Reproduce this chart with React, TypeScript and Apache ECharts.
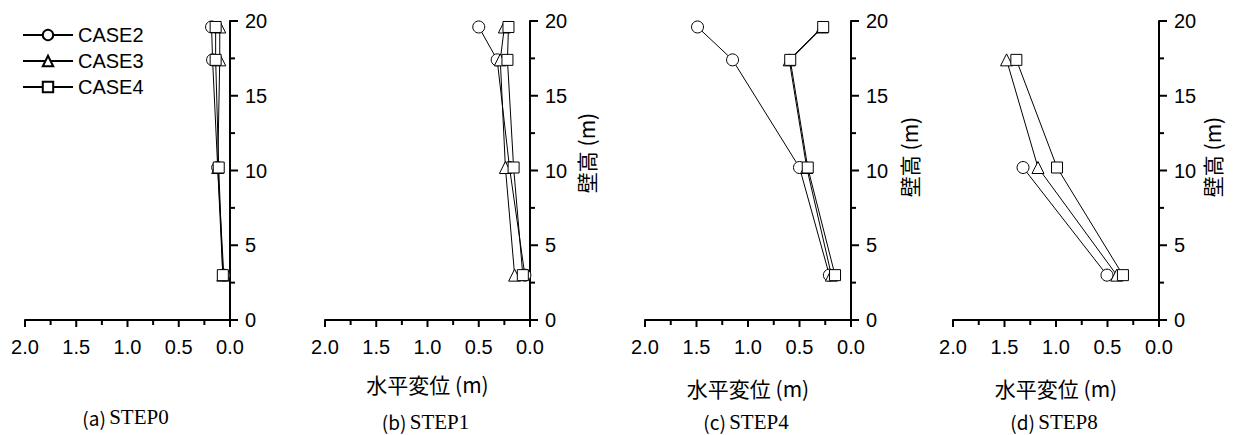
import React, { useEffect, useRef } from "react";
import * as echarts from "echarts";

// wall heights (m) of the measurement points
const heights = [19.6, 17.4, 10.2, 3.0];
const caseNames = ["CASE2", "CASE3", "CASE4"];
const caseSymbols = ["circle", "triangle", "rect"];

// horizontal displacement (m), per step, per case (null = no point)
const step0Case2 = [0.18, 0.17, 0.12, 0.06];
const step0Case3 = [0.1, 0.1, 0.12, 0.07];
const step0Case4 = [0.14, 0.14, 0.11, 0.07];
const step1Case2 = [0.5, 0.32, 0.2, 0.05];
const step1Case3 = [0.25, 0.29, 0.24, 0.15];
const step1Case4 = [0.21, 0.22, 0.16, 0.07];
const step4Case2 = [1.49, 1.15, 0.5, 0.21];
const step4Case3 = [0.28, 0.6, 0.43, 0.19];
const step4Case4 = [0.27, 0.59, 0.42, 0.155];
const step8Case2 = [null, null, 1.32, 0.505];
const step8Case3 = [null, 1.48, 1.175, 0.41];
const step8Case4 = [null, 1.385, 0.99, 0.35];

const panels = [
  { caption: "(a)", step: "STEP0", data: [step0Case2, step0Case3, step0Case4], xName: false, yName: false },
  { caption: "(b)", step: "STEP1", data: [step1Case2, step1Case3, step1Case4], xName: true, yName: true },
  { caption: "(c)", step: "STEP4", data: [step4Case2, step4Case3, step4Case4], xName: true, yName: true },
  { caption: "(d)", step: "STEP8", data: [step8Case2, step8Case3, step8Case4], xName: true, yName: true },
];

// axis tick values (major ticks carry labels, minor ticks sit halfway)
const xMajorTicks = [0, 0.5, 1.0, 1.5, 2.0];
const xMinorTicks = [0.25, 0.75, 1.25, 1.75];
const yMajorTicks = [0, 5, 10, 15, 20];
const yMinorTicks = [2.5, 7.5, 12.5, 17.5];
const xAxisTitle = "水平変位 (m)";
const yAxisTitle = "壁高 (m)";

const gridBoxes = [
  { left: 25, width: 205 },
  { left: 325, width: 205 },
  { left: 645, width: 206 },
  { left: 953, width: 206 },
];
const GRID_TOP = 21;
const GRID_H = 299;

const SANS = "'Liberation Sans', Arial, sans-serif";
const JP = "'Noto Sans CJK JP', sans-serif";
const SERIF = "'Liberation Serif', 'Times New Roman', serif";

export default function App() {
  const ref = useRef<HTMLDivElement>(null);

  useEffect(() => {
    if (!ref.current) return;
    const chart = echarts.init(ref.current, null, { renderer: "svg" });

    const grid = gridBoxes.map((g) => ({ left: g.left, width: g.width, top: GRID_TOP, height: GRID_H }));

    const xAxis = gridBoxes.map((_, i) => ({
      type: "value",
      gridIndex: i,
      min: xMajorTicks[0],
      max: xMajorTicks[xMajorTicks.length - 1],
      interval: 0.5,
      inverse: true,
      axisLine: { show: true, lineStyle: { color: "#000", width: 2 } },
      axisTick: { show: false },
      minorTick: { show: false },
      splitLine: { show: false },
      axisLabel: {
        color: "#000",
        fontSize: 20,
        fontFamily: SANS,
        margin: 17,
        formatter: (v: number) => v.toFixed(1),
      },
    }));

    const yAxis = gridBoxes.map((_, i) => ({
      type: "value",
      gridIndex: i,
      position: "right",
      min: yMajorTicks[0],
      max: yMajorTicks[yMajorTicks.length - 1],
      interval: 5,
      axisLine: { show: true, lineStyle: { color: "#000", width: 2 } },
      axisTick: { show: false },
      minorTick: { show: false },
      splitLine: { show: false },
      axisLabel: { color: "#000", fontSize: 20, fontFamily: SANS, margin: 15 },
    }));

    const series: any[] = [];
    panels.forEach((p, pi) => {
      p.data.forEach((vals, ci) => {
        const pts: number[][] = [];
        vals.forEach((v, k) => {
          if (v !== null && v !== undefined) pts.push([v as number, heights[k]]);
        });
        series.push({
          type: "line",
          name: caseNames[ci],
          xAxisIndex: pi,
          yAxisIndex: pi,
          data: pts,
          symbol: caseSymbols[ci],
          symbolSize: ci === 2 ? 11 : 12,
          showAllSymbol: true,
          lineStyle: { color: "#000", width: 1 },
          itemStyle: { color: "#fff", borderColor: "#000", borderWidth: 1 },
          z: 2 + ci,
        });
      });

      // tick marks, placed through the axes' own scales
      const tickData: number[][] = [];
      xMajorTicks.forEach((v) => tickData.push([0, v, 0, 7]));
      xMinorTicks.forEach((v) => tickData.push([0, v, 0, 5]));
      yMajorTicks.forEach((v) => tickData.push([1, 0, v, 8]));
      yMinorTicks.forEach((v) => tickData.push([1, 0, v, 5]));
      series.push({
        type: "custom",
        xAxisIndex: pi,
        yAxisIndex: pi,
        silent: true,
        clip: false,
        z: 10,
        encode: { x: 1, y: 2 },
        data: tickData,
        renderItem: (params: any, api: any) => {
          const kind = api.value(0);
          const xv = api.value(1);
          const yv = api.value(2);
          const len = api.value(3);
          const pt = api.coord([xv, yv]);
          const shape =
            kind === 0
              ? { x1: pt[0], y1: pt[1], x2: pt[0], y2: pt[1] + len }
              : { x1: pt[0], y1: pt[1], x2: pt[0] + len, y2: pt[1] };
          return { type: "line", shape, style: { stroke: "#000", lineWidth: 2 } };
        },
      });
    });

    const graphics: any[] = [];
    panels.forEach((p, pi) => {
      const g = gridBoxes[pi];
      const cx = g.left + g.width / 2;
      if (p.xName) {
        graphics.push({
          type: "text",
          x: cx,
          y: pi === 1 ? 384 : 388,
          style: { text: xAxisTitle, fontSize: 21, fontFamily: JP, fill: "#000", textAlign: "center", textVerticalAlign: "middle" },
        });
      }
      if (p.yName) {
        graphics.push({
          type: "text",
          x: pi === 1 ? 586 : pi === 2 ? 909 : 1212,
          y: pi === 1 ? 153 : 157,
          rotation: Math.PI / 2,
          style: { text: yAxisTitle, fontSize: 21, fontFamily: JP, fill: "#000", textAlign: "center", textVerticalAlign: "middle" },
        });
      }
      graphics.push({
        type: "text",
        x: cx - 2,
        y: pi === 0 ? 417 : 421.5,
        style: {
          text: `{c|${p.caption}} {s|${p.step}}`,
          textAlign: "center",
          textVerticalAlign: "middle",
          rich: {
            c: { fontFamily: JP, fontSize: 19, fill: "#000" },
            s: { fontFamily: SERIF, fontSize: 21, fill: "#000" },
          },
        },
      });
    });

    chart.setOption({
      animation: false,
      grid,
      xAxis,
      yAxis,
      legend: {
        data: caseNames,
        orient: "vertical",
        left: 17,
        top: 20,
        itemWidth: 50,
        itemHeight: 13,
        itemGap: 6,
        textStyle: { color: "#000", fontSize: 20, fontFamily: SANS },
        selectedMode: false,
      },
      graphic: graphics,
      series,
    });

    return () => chart.dispose();
  }, []);

  return (
    <div
      ref={ref}
      style={{ position: "absolute", left: 0, top: 0, width: 1233, height: 435, background: "#fff" }}
    />
  );
}
